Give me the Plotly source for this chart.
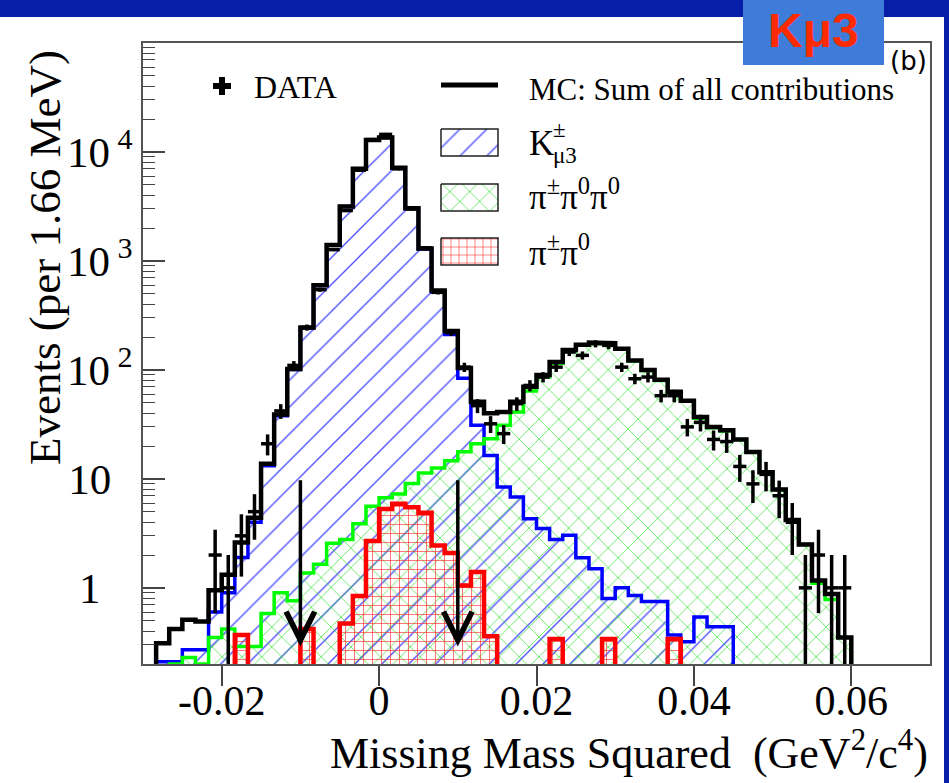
import math
import plotly.graph_objects as go

# ---------------- data ----------------
x_min, x_max, n_bins = -0.03, 0.07, 60
bin_width = (x_max - x_min) / n_bins
edges = [x_min + i * bin_width for i in range(n_bins + 1)]
centers = [x_min + (i + 0.5) * bin_width for i in range(n_bins)]

mc_sum = [0, 0.31, 0.42, 0.51, 0.49, 0.95, 1.32, 2.6, 4.4, 13.8,
          39, 102, 245, 597, 1400, 3160, 7000, 12900, 13600, 7150,
          3050, 1300, 534, 228, 104, 51, 40, 41, 51, 70,
          90, 118, 152, 170, 178, 176, 156, 122, 100, 81,
          63, 52, 37, 30, 28, 23, 17.6, 11.5, 8.0, 4.2,
          2.5, 1.17, 0.88, 0.35, 0, 0, 0, 0, 0, 0]

kmu3 = [0, 0.21, 0.21, 0.27, 0.27, 0.6, 0.9, 1.9, 4.0, 13.2,
        38, 101, 243, 595, 1397, 3157, 6995, 12892, 13588, 7137,
        3035, 1284, 519, 211, 84, 31, 16.4, 8.4, 6.8, 4.3,
        3.5, 2.77, 3.03, 1.89, 1.5, 0.8, 1.0, 0.85, 0.75, 0.75,
        0.37, 0.32, 0.54, 0.44, 0.44, 0, 0, 0, 0, 0,
        0, 0, 0, 0, 0, 0, 0, 0, 0, 0]

pipi0pi0 = [0, 0.1, 0.2, 0.23, 0.2, 0.35, 0.42, 0.29, 0.29, 0.58,
            0.9, 0.76, 1.37, 1.65, 2.57, 2.77, 3.87, 5.6, 6.7, 7.25,
            9.05, 11.3, 12.6, 14.7, 17.7, 21, 23.4, 31, 41, 64,
            86, 115, 149, 168, 176, 175, 155, 121, 99, 80,
            63, 52, 36, 29.5, 27.5, 23, 17.6, 11.5, 8, 4.2,
            2.5, 1.1, 0.78, 0.35, 0, 0, 0, 0, 0, 0]

pipi0 = [0, 0, 0, 0, 0, 0, 0, 0.37, 0, 0,
         0, 0, 0.42, 0, 0, 0.47, 0.84, 2.69, 5.3, 5.9,
         5.5, 4.9, 2.45, 2.09, 1.05, 1.4, 0.36, 0, 0, 0,
         0, 0.34, 0, 0, 0, 0.34, 0, 0, 0, 0,
         0.34, 0, 0, 0, 0, 0, 0, 0, 0, 0,
         0, 0, 0, 0, 0, 0, 0, 0, 0, 0]

data_counts = [0, 0, 0, 0, 0, 2, 1, 3, 5, 21,
               42, 110, 245, 545, 1270, 2900, 6800, 13000, 14500, 7000,
               3000, 1320, 515, 220, 106, 47, 32, 26, 49, 72,
               86, 106, 146, 136, 174, 168, 106, 83, 86, 58,
               58, 30, 33, 23, 22, 13, 9, 11, 7, 4,
               1, 2, 1, 1, 0, 0, 0, 0, 0, 0]

cut_positions = [-0.01, 0.01]
arrow_top = 10
arrow_tip = 0.29

x_tick_vals = [-0.02, 0, 0.02, 0.04, 0.06]
x_tick_text = ["-0.02", "0", "0.02", "0.04", "0.06"]
y_tick_vals = [1, 10, 100, 1000, 10000]
y_tick_text = ["1\u00a0\u00a0\u00a0", "10\u00a0\u00a0",
               "10<sup>\u00a02</sup>", "10<sup>\u00a03</sup>", "10<sup>\u00a04</sup>"]
y_range_min, y_range_max = 0.2, 1e5

# ---------------- helpers ----------------
FLOOR = 1e-3
SERIF = "Liberation Serif"
W, H = 949, 783
L, R, T, B = 143, 930, 43, 664


def px_x(px):
    return (px - L) / (R - L)


def px_y(py):
    return (B - py) / (B - T)


def outline(values):
    xs, ys = [edges[0]], [FLOOR]
    for i, v in enumerate(values):
        vv = v if v > 0 else FLOOR
        xs += [edges[i], edges[i + 1]]
        ys += [vv, vv]
    xs.append(edges[-1])
    ys.append(FLOOR)
    return xs, ys


def nz(values):
    return [v if v > 0 else None for v in values]


fig = go.Figure()

BLUE_H = dict(shape="/", fgcolor="#4a4aff", size=19, solidity=0.07)
GREEN_H = dict(shape="x", fgcolor="#22dd22", size=14, solidity=0.09)
RED_H = dict(shape="+", fgcolor="#ff3030", size=9, solidity=0.14)

hists = [
    (kmu3, "#0000ff", BLUE_H, 3.5),
    (pipi0pi0, "#00ff00", GREEN_H, 3.5),
    (pipi0, "#ff0000", RED_H, 4.5),
]

for vals, lc, hp, lw in hists:
    fig.add_trace(go.Bar(
        x=centers, y=nz(vals), width=bin_width,
        marker=dict(color="rgba(0,0,0,0)", line=dict(width=0),
                    pattern=dict(bgcolor="rgba(0,0,0,0)", fillmode="overlay", fgopacity=1, **hp)),
        hoverinfo="skip"))

for vals, lc, hp, lw in hists:
    xs, ys = outline(vals)
    fig.add_trace(go.Scatter(x=xs, y=ys, mode="lines",
                             line=dict(color=lc, width=lw), hoverinfo="skip"))

xs, ys = outline(mc_sum)
fig.add_trace(go.Scatter(x=xs, y=ys, mode="lines",
                         line=dict(color="black", width=4.5), hoverinfo="skip"))

fig.add_trace(go.Scatter(
    x=centers, y=nz(data_counts), mode="markers",
    marker=dict(color="black", size=3, symbol="square"),
    error_y=dict(type="sqrt", color="black", thickness=3.5, width=0),
    error_x=dict(type="constant", value=bin_width / 2, color="black", thickness=3.5, width=0),
))

# ---------------- legend (drawn on an overlay pixel axis) ----------------
fig.update_layout(
    xaxis2=dict(overlaying="x", range=[L, R], visible=False, anchor="y2", fixedrange=True),
    yaxis2=dict(overlaying="y", range=[B, T], visible=False, anchor="x2", fixedrange=True),
)
legend_boxes = [(129, 156, BLUE_H), (184, 211, GREEN_H), (238, 265, dict(RED_H, size=8))]
bx0, bx1 = 441, 498
for y0, y1, hp in legend_boxes:
    fig.add_trace(go.Scatter(
        x=[bx0, bx1, bx1, bx0, bx0], y=[y0, y0, y1, y1, y0], xaxis="x2", yaxis="y2",
        mode="lines", fill="toself", fillcolor="rgba(0,0,0,0)",
        fillpattern=dict(bgcolor="rgba(0,0,0,0)", fillmode="overlay", fgopacity=1, **hp),
        line=dict(color="#222", width=1.5), hoverinfo="skip"))
fig.add_trace(go.Scatter(x=[222], y=[86], xaxis="x2", yaxis="y2", mode="markers",
                         marker=dict(symbol="cross", size=15, color="black"), hoverinfo="skip"))
fig.add_trace(go.Scatter(x=[441, 498], y=[85, 85], xaxis="x2", yaxis="y2", mode="lines",
                         line=dict(color="black", width=5), hoverinfo="skip"))

BLK = "black"
ann = []
tf = dict(family=SERIF, size=32, color=BLK)
ann.append(dict(text="DATA", x=px_x(252), y=px_y(87), xref="paper", yref="paper",
                xanchor="left", yanchor="middle", showarrow=False, font=tf))
ann.append(dict(text="MC: Sum of all contributions", x=px_x(527), y=px_y(89), xref="paper",
                yref="paper", xanchor="left", yanchor="middle", showarrow=False,
                font=dict(family=SERIF, size=31, color=BLK)))
ann.append(dict(text="K", x=px_x(527), y=px_y(143), xref="paper", yref="paper",
                xanchor="left", yanchor="middle", showarrow=False,
                font=dict(family=SERIF, size=35, color=BLK)))
ann.append(dict(text="±", x=px_x(551), y=px_y(130), xref="paper", yref="paper",
                xanchor="left", yanchor="middle", showarrow=False,
                font=dict(family=SERIF, size=23, color=BLK)))
ann.append(dict(text="μ3", x=px_x(551), y=px_y(155), xref="paper", yref="paper",
                xanchor="left", yanchor="middle", showarrow=False,
                font=dict(family=SERIF, size=23, color=BLK)))
ann.append(dict(text="π<sup>±</sup>π<sup>0</sup>π<sup>0</sup>", x=px_x(527), y=px_y(195),
                xref="paper", yref="paper", xanchor="left", yanchor="middle",
                showarrow=False, font=dict(family=SERIF, size=35, color=BLK)))
ann.append(dict(text="π<sup>±</sup>π<sup>0</sup>", x=px_x(527), y=px_y(250),
                xref="paper", yref="paper", xanchor="left", yanchor="middle",
                showarrow=False, font=dict(family=SERIF, size=35, color=BLK)))

# axis titles
ann.append(dict(text="Missing Mass Squared\u00a0\u00a0(GeV<sup>2</sup>/c<sup>4</sup>)",
                x=px_x(930), y=px_y(750), xref="paper", yref="paper", xanchor="right",
                yanchor="middle", showarrow=False, font=dict(family=SERIF, size=44, color=BLK)))
ann.append(dict(text="Events (per 1.66 MeV)", x=px_x(45), y=px_y(258), xref="paper",
                yref="paper", xanchor="center", yanchor="middle", textangle=-90,
                showarrow=False, font=dict(family=SERIF, size=45, color=BLK)))

# (b) label and Kmu3 tag
ann.append(dict(text="(b)", x=px_x(908), y=px_y(61), xref="paper", yref="paper",
                xanchor="center", yanchor="middle", showarrow=False,
                font=dict(family="DejaVu Sans", size=26, color=BLK)))
ann.append(dict(text="<b>Kμ3</b>", x=px_x(813), y=px_y(31), xref="paper", yref="paper",
                xanchor="center", yanchor="middle", showarrow=False,
                font=dict(family="Liberation Sans", size=48, color="#ff2a00")))

# cut arrows
for cx in cut_positions:
    ann.append(dict(x=cx, y=math.log10(arrow_tip), ax=cx, ay=math.log10(arrow_top),
                    xref="x", yref="y", axref="x", ayref="y", text="", showarrow=True,
                    arrowhead=5, arrowsize=1.6, arrowwidth=3.5, arrowcolor="black", standoff=0))

shapes = [
    dict(type="rect", xref="paper", yref="paper", x0=px_x(0), x1=px_x(W), y0=px_y(17), y1=px_y(0),
         fillcolor="#071ea8", line=dict(width=0), layer="above"),
    dict(type="rect", xref="paper", yref="paper", x0=px_x(944), x1=px_x(W), y0=px_y(H), y1=px_y(0),
         fillcolor="#071ea8", line=dict(width=0), layer="above"),
    dict(type="rect", xref="paper", yref="paper", x0=px_x(743), x1=px_x(884), y0=px_y(65), y1=px_y(0),
         fillcolor="#3f7bd8", line=dict(width=0), layer="above"),
]

minor_vals = [m * 10 ** k for k in range(-1, 5) for m in range(2, 10)
              if y_range_min <= m * 10 ** k <= y_range_max]

fig.update_layout(
    width=W, height=H, autosize=False,
    margin=dict(l=L, r=W - R, t=T, b=H - B, pad=0),
    paper_bgcolor="white", plot_bgcolor="white",
    font=dict(family=SERIF, color=BLK),
    showlegend=False, barmode="overlay", bargap=0,
    annotations=ann, shapes=shapes,
    xaxis=dict(range=[x_min, x_max], tickmode="array", tickvals=x_tick_vals, ticktext=x_tick_text,
               ticks="outside", ticklen=20, tickwidth=1.5, tickcolor="#444",
               ticklabelstandoff=-21,
               showline=True, linecolor="#555", linewidth=1.5, mirror=True,
               showgrid=False, zeroline=False,
               tickfont=dict(family=SERIF, size=42, color=BLK)),
    yaxis=dict(type="log", range=[math.log10(y_range_min), math.log10(y_range_max)],
               tickmode="array", tickvals=y_tick_vals, ticktext=y_tick_text,
               ticks="inside", ticklen=22, tickwidth=1.5, tickcolor="#444",
               minor=dict(tickmode="array", tickvals=minor_vals, ticks="inside", ticklen=12,
                          tickwidth=1.3, tickcolor="#444", showgrid=False),
               showline=True, linecolor="#555", linewidth=1.5, mirror=True,
               showgrid=False, zeroline=False,
               tickfont=dict(family=SERIF, size=43, color=BLK)),
)

fig.write_html("out.html")
